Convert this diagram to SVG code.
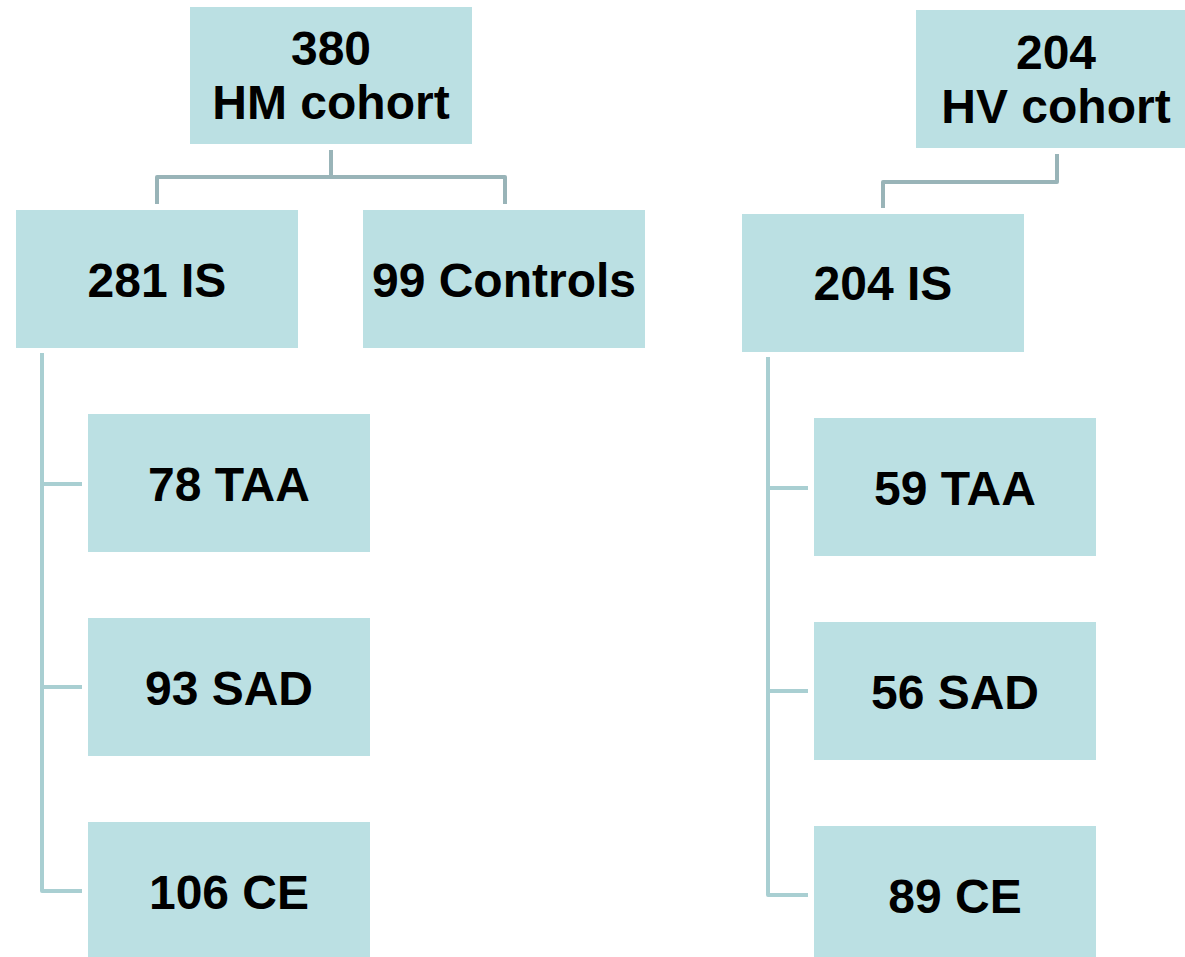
<svg xmlns="http://www.w3.org/2000/svg" width="1185" height="957" viewBox="0 0 1185 957">
<style>
.box{fill:#bbe0e3}
.t{font-family:"Liberation Sans",Arial,sans-serif;font-weight:bold;font-size:48px;fill:#000;text-anchor:middle}
.c1{fill:none;stroke:#99b4b8;stroke-width:4;stroke-linejoin:round}
.c2{fill:none;stroke:#a9cfd2;stroke-width:4;stroke-linejoin:round}
</style>
<rect width="1185" height="957" fill="#fff"/>
<g id="connectors">
<path class="c1" d="M331,150 V177 H157 V204 M331,177 H505 V204"/>
<path class="c1" d="M1057,154 V182 H883 V208"/>
<path class="c2" d="M42,353 V891 H82 M42,484 H82 M42,687 H82"/>
<path class="c2" d="M768,357 V895 H808 M768,488 H808 M768,691 H808"/>
</g>
<g id="hm"><rect class="box" x="190" y="7" width="282" height="137"/><text class="t" x="331" y="65">380</text><text class="t" x="331" y="119">HM cohort</text></g>
<g id="hm_is"><rect class="box" x="16" y="210" width="282" height="138"/><text class="t" x="157" y="297">281 IS</text></g>
<g id="hm_ctrl"><rect class="box" x="363" y="210" width="282" height="138"/><text class="t" x="504" y="297">99 Controls</text></g>
<g id="hm_taa"><rect class="box" x="88" y="414" width="282" height="138"/><text class="t" x="229" y="501">78 TAA</text></g>
<g id="hm_sad"><rect class="box" x="88" y="618" width="282" height="138"/><text class="t" x="229" y="705">93 SAD</text></g>
<g id="hm_ce"><rect class="box" x="88" y="822" width="282" height="140"/><text class="t" x="229" y="909">106 CE</text></g>
<g id="hv"><rect class="box" x="916" y="10" width="272" height="138"/><text class="t" x="1056" y="69">204</text><text class="t" x="1056" y="123">HV cohort</text></g>
<g id="hv_is"><rect class="box" x="742" y="214" width="282" height="138"/><text class="t" x="883" y="300">204 IS</text></g>
<g id="hv_taa"><rect class="box" x="814" y="418" width="282" height="138"/><text class="t" x="955" y="505">59 TAA</text></g>
<g id="hv_sad"><rect class="box" x="814" y="622" width="282" height="138"/><text class="t" x="955" y="709">56 SAD</text></g>
<g id="hv_ce"><rect class="box" x="814" y="826" width="282" height="136"/><text class="t" x="955" y="913">89 CE</text></g>
</svg>
